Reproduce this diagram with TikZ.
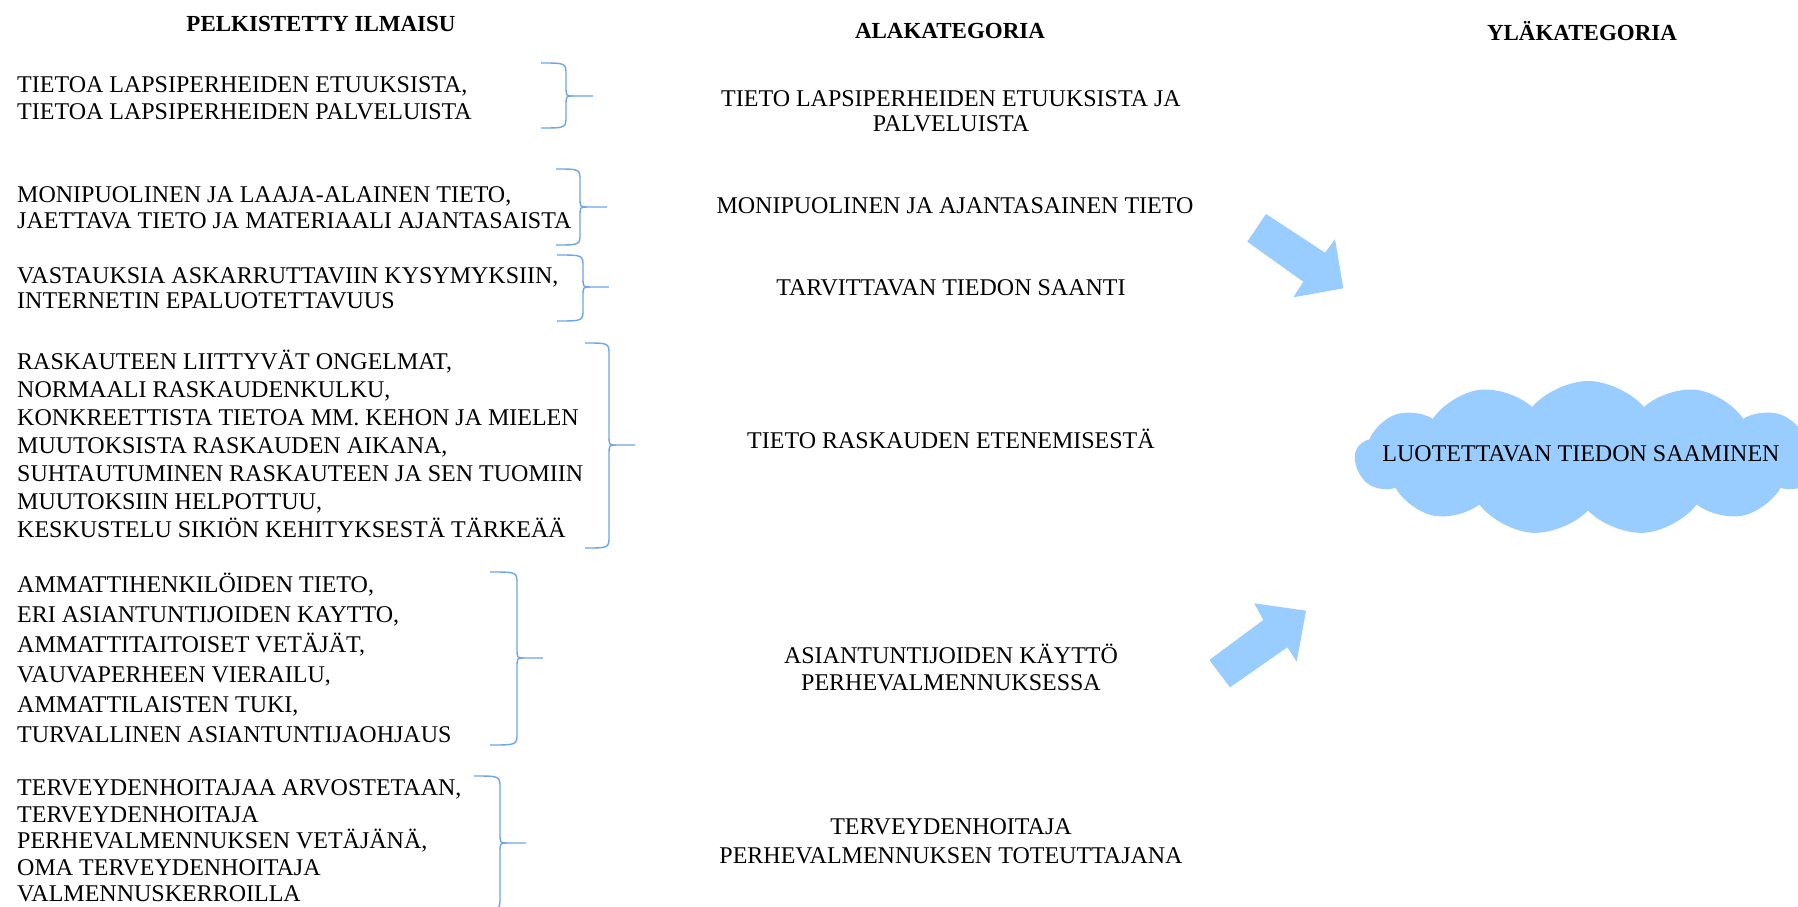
\documentclass[tikz,border=0pt]{standalone}
\usepackage{fontspec}
\setmainfont{Liberation Serif}
\usetikzlibrary{shapes.symbols}
\definecolor{bracecol}{RGB}{110,165,235}
\definecolor{shapeblue}{RGB}{153,204,255}
\newcommand\mybrace[6]{% x0 x1 x2 ytop ymid ybot
  \draw[bracestyle] (#1,#4) .. controls (#2,#4) .. (#2,#4+12) -- (#2,#5-10) .. controls (#2,#5) .. (#2+7,#5) -- (#3,#5);
  \draw[bracestyle] (#1,#6) .. controls (#2,#6) .. (#2,#6-12) -- (#2,#5+10) .. controls (#2,#5) .. (#2+7,#5);
}
\tikzset{
  bracestyle/.style={draw=bracecol, line width=1.4pt},
  lefttxt/.style={anchor=west, align=left, inner sep=0pt, font=\fontsize{24}{#1}\selectfont},
  lefttxt/.default=28,
  midtxt/.style={anchor=center, align=center, inner sep=0pt, font=\fontsize{24}{#1}\selectfont},
  midtxt/.default=26,
  hdr/.style={anchor=center, inner sep=0pt, font=\fontsize{23}{27}\selectfont\bfseries},
  blockarrow/.style={fill=shapeblue, draw=none},
}
\begin{document}
\begin{tikzpicture}[x=1pt,y=-1pt]
\useasboundingbox (0,0) rectangle (1798,907);
\fill[white] (0,0) rectangle (1798,907);
\clip (0,0) rectangle (1798,907);

% headers
\node[hdr] (h1) at (321,24) {PELKISTETTY ILMAISU};
\node[hdr] (h2) at (950,31) {ALAKATEGORIA};
\node[hdr] (h3) at (1582,31) {YLÄKATEGORIA};

% left column
\node[lefttxt=27] (p1) at (17,98.5) {TIETOA LAPSIPERHEIDEN ETUUKSISTA,\\TIETOA LAPSIPERHEIDEN PALVELUISTA};
\node[lefttxt=25.5] (p2) at (17,207.5) {MONIPUOLINEN JA LAAJA-ALAINEN TIETO,\\JAETTAVA TIETO JA MATERIAALI AJANTASAISTA};
\node[lefttxt=25] (p3) at (17,288.5) {VASTAUKSIA ASKARRUTTAVIIN KYSYMYKSIIN,\\INTERNETIN EPALUOTETTAVUUS};
\node[lefttxt=28] (p4) at (17,444) {RASKAUTEEN LIITTYVÄT ONGELMAT,\\NORMAALI RASKAUDENKULKU,\\KONKREETTISTA TIETOA MM. KEHON JA MIELEN\\MUUTOKSISTA RASKAUDEN AIKANA,\\SUHTAUTUMINEN RASKAUTEEN JA SEN TUOMIIN\\MUUTOKSIIN HELPOTTUU,\\KESKUSTELU SIKIÖN KEHITYKSESTÄ TÄRKEÄÄ};
\node[lefttxt=30] (p5) at (17,658) {AMMATTIHENKILÖIDEN TIETO,\\ERI ASIANTUNTIJOIDEN KAYTTO,\\AMMATTITAITOISET VETÄJÄT,\\VAUVAPERHEEN VIERAILU,\\AMMATTILAISTEN TUKI,\\TURVALLINEN ASIANTUNTIJAOHJAUS};
\node[lefttxt=26.5] (p6) at (17,841) {TERVEYDENHOITAJAA ARVOSTETAAN,\\TERVEYDENHOITAJA\\PERHEVALMENNUKSEN VETÄJÄNÄ,\\OMA TERVEYDENHOITAJA\\VALMENNUSKERROILLA};

% braces
\mybrace{541}{566}{593}{63}{96}{128}
\mybrace{556}{580}{607}{169}{207}{245}
\mybrace{557}{583}{609}{255}{287}{321}
\mybrace{585}{609}{635}{343}{445}{548}
\mybrace{490}{517}{543}{572}{658}{745}
\mybrace{474}{500}{526}{776}{843}{910}

% middle column
\node[midtxt=25] (a1) at (951,111.5) {TIETO LAPSIPERHEIDEN ETUUKSISTA JA\\PALVELUISTA};
\node[midtxt] (a2) at (955,206) {MONIPUOLINEN JA AJANTASAINEN TIETO};
\node[midtxt] (a3) at (951,288) {TARVITTAVAN TIEDON SAANTI};
\node[midtxt] (a4) at (951,439) {TIETO RASKAUDEN ETENEMISESTÄ};
\node[midtxt=27.5] (a5) at (951,667.5) {ASIANTUNTIJOIDEN KÄYTTÖ\\PERHEVALMENNUKSESSA};
\node[midtxt=28.5] (a6) at (951,841) {TERVEYDENHOITAJA\\PERHEVALMENNUKSEN TOTEUTTAJANA};

% block arrows
\fill[blockarrow] (1266,214) -- (1325,252.7) -- (1335,239.3) -- (1343.3,288.3) -- (1293.3,297.3) -- (1303.3,281.7) -- (1247.3,241.7) -- cycle;
\fill[blockarrow] (1230,687.3) -- (1287.3,647.3) -- (1296.7,661.7) -- (1306,610.7) -- (1254.3,603.3) -- (1263.3,620) -- (1209.3,660) -- cycle;

% cloud
\node[cloud, cloud puffs=13, cloud puff arc=100, aspect=3, minimum width=466pt, minimum height=154pt, fill=shapeblue, draw=none, inner sep=0pt] (cl) at (1588,458) {};
\node[midtxt] (yl) at (1581,454) {LUOTETTAVAN TIEDON SAAMINEN};
\end{tikzpicture}
\end{document}
